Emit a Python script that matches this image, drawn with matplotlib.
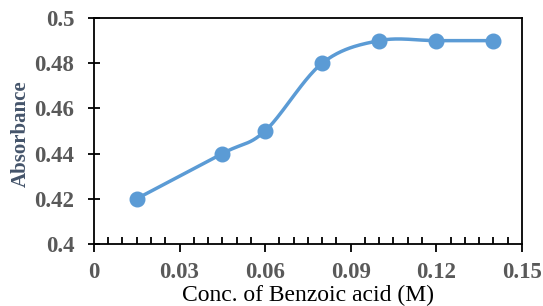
import numpy as np
import matplotlib
matplotlib.use("Agg")
import matplotlib.pyplot as plt
from matplotlib.ticker import MultipleLocator

conc = [0.015, 0.045, 0.06, 0.08, 0.10, 0.12, 0.14]
absorbance = [0.42, 0.44, 0.45, 0.48, 0.49, 0.49, 0.49]
xticks = [0, 0.03, 0.06, 0.09, 0.12, 0.15]
xticklabels = ["0", "0.03", "0.06", "0.09", "0.12", "0.15"]
yticks = [0.4, 0.42, 0.44, 0.46, 0.48, 0.5]
yticklabels = ["0.4", "0.42", "0.44", "0.46", "0.48", "0.5"]

plt.rcParams['font.family'] = ['Liberation Serif', 'DejaVu Serif']

def smooth(x, y, n=40):
    x = np.asarray(x, float); y = np.asarray(y, float)
    px = np.concatenate([[x[0]], x, [x[-1]]])
    py = np.concatenate([[y[0]], y, [y[-1]]])
    xs, ys = [], []
    t = np.linspace(0, 1, n)
    for i in range(1, len(px) - 2):
        p0 = np.array([px[i], py[i]]); p3 = np.array([px[i+1], py[i+1]])
        c1 = p0 + (np.array([px[i+1], py[i+1]]) - np.array([px[i-1], py[i-1]])) / 6
        c2 = p3 - (np.array([px[i+2], py[i+2]]) - np.array([px[i], py[i]])) / 6
        b = ((1-t)**3)[:, None]*p0 + (3*(1-t)**2*t)[:, None]*c1 + (3*(1-t)*t**2)[:, None]*c2 + (t**3)[:, None]*p3
        xs.extend(b[:, 0]); ys.extend(b[:, 1])
    return xs, ys

fig = plt.figure(figsize=(5.43, 3.06), dpi=100)
ax = fig.add_axes([0.173, 0.203, 0.788, 0.738])
color = '#5B9BD5'
sx, sy = smooth(conc, absorbance)
ax.plot(sx, sy, color=color, lw=2.5, zorder=2)
ax.plot(conc, absorbance, 'o', color=color, ms=10.5, zorder=3)

ax.set_xlim(0, 0.15)
ax.set_ylim(0.4, 0.5)
ax.set_xticks(xticks)
ax.set_xticklabels(xticklabels)
ax.set_yticks(yticks)
ax.set_yticklabels(yticklabels)
ax.xaxis.set_minor_locator(MultipleLocator(0.005))

for s in ax.spines.values():
    s.set_color('black'); s.set_linewidth(1.3)

ax.tick_params(axis='x', which='major', direction='out', length=6, width=1.3, pad=7)
ax.tick_params(axis='x', which='minor', direction='in', length=5, width=1.3)
ax.tick_params(axis='y', which='major', direction='inout', length=8, width=1.3, pad=10)
for lab in ax.get_xticklabels() + ax.get_yticklabels():
    lab.set_fontsize(16.5); lab.set_fontweight('bold'); lab.set_color('#595959')

ax.set_xlabel('Conc. of Benzoic acid (M)', fontsize=17, color='black')
ax.xaxis.set_label_coords(0.5, -0.183)
ax.set_ylabel('Absorbance', fontsize=15, fontweight='bold', color='#44546A')
ax.yaxis.set_label_coords(-0.148, 0.49)

fig.savefig('out.png', dpi=100)
